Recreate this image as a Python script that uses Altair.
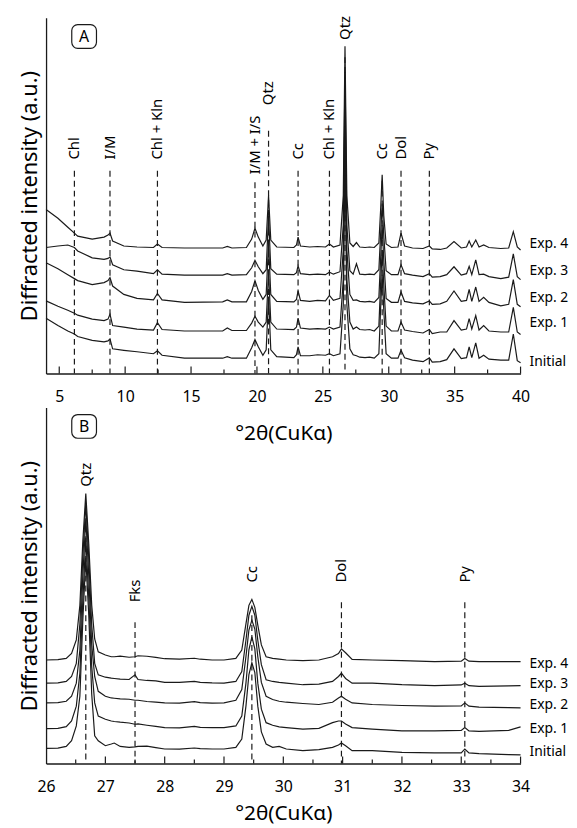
import altair as alt
import pandas as pd

FONT = "Noto Sans"
SAMPLES = ["Exp. 4", "Exp. 3", "Exp. 2", "Exp. 1", "Initial"]

# ---------------- Panel A (4-40 deg) ----------------
A_x = [4.0, 4.9, 5.65, 6.15, 6.4, 7.5, 8.4, 8.7, 8.85, 9.05,
       9.9, 10.9, 12.15, 12.45, 12.8, 14.5, 17.4, 17.75, 18.1, 19.2,
       19.6, 19.85, 20.1, 20.45, 20.7, 20.88, 21.05, 21.5, 22.8, 23.0,
       23.12, 23.3, 24.0, 24.6, 25.2, 25.5, 25.8, 26.3, 26.55, 26.68,
       26.82, 27.05, 27.3, 27.55, 27.8, 28.2, 28.55, 28.9, 29.25, 29.38,
       29.5, 29.62, 29.8, 30.2, 30.7, 30.93, 31.2, 31.8, 32.6, 33.08,
       33.3, 33.9, 34.4, 34.95, 35.5, 35.9, 36.1, 36.3, 36.6, 36.85,
       37.2, 37.6, 38.5, 39.1, 39.45, 39.75, 40.0]
A_exp4 = [166, 157, 148, 142, 139, 136, 138, 140, 142, 134,
          129, 128, 127.5, 131, 127.5, 127, 127, 128.5, 127, 127.5,
          136, 147, 138, 129, 135, 180, 135, 128, 127.5, 130,
          138, 129, 128, 128.5, 128, 131, 128, 130, 180, 331,
          180, 132, 128.5, 132.5, 128, 127.5, 128, 127.5, 132, 165,
          201, 160, 131, 127.5, 128, 142, 129, 127, 126.5, 129,
          126, 125.5, 127, 133.5, 127, 128, 134, 128, 135, 128,
          130, 127.5, 126.5, 127, 143.5, 128, 125]
A_exp3 = [127.5, 129, 130, 127.5, 124, 117, 115.5, 116.5, 118, 110,
          105, 103.5, 101, 105, 100.5, 99.5, 99.5, 101, 99.5, 100,
          107, 114.5, 108, 101, 105, 160, 106, 100.5, 100, 102,
          109, 101, 100, 100.5, 100, 102.5, 100.5, 103, 150, 305,
          150, 104, 100.5, 111, 100.5, 100, 100.5, 100, 105, 140,
          172, 140, 104, 100, 100, 110, 101, 99.5, 98, 101,
          97.5, 98, 100, 108, 99.5, 101, 108.5, 100, 115, 100,
          100.5, 98, 96, 97.5, 121, 98, 95]
A_exp2 = [112, 106, 100, 96, 94, 90, 92, 94, 97, 88.5,
          80, 76, 74.5, 81, 74.5, 72, 72.5, 74.5, 72.5, 72.5,
          83, 94, 84, 75, 80, 132, 80, 73, 72.5, 75,
          83.5, 74, 73, 74, 73.5, 79, 74, 76, 125, 280,
          125, 80, 74, 74.5, 73, 72.5, 73, 72, 77, 115,
          150, 115, 76, 72, 72, 82.5, 73, 71.5, 70.5, 73.5,
          70, 70.5, 73, 83.5, 73, 74, 85, 73, 87.5, 73,
          77, 72, 68.5, 70, 95, 70, 67.5]
A_exp1 = [73.5, 68, 64, 61, 59, 55, 53.5, 55, 60, 48.5,
          47, 45, 44, 51.5, 44.5, 43, 43, 46, 43.5, 43.5,
          51, 58, 52, 47, 52, 103, 52, 45, 44.5, 47,
          56, 46, 45, 45.5, 45, 47, 45, 47, 95, 250,
          95, 52, 45, 47, 44.5, 44, 44.5, 43, 48, 90,
          125, 90, 48, 43, 43, 52, 44, 42.5, 41, 44.5,
          40.5, 42, 42, 53.5, 44, 45, 55.5, 45, 58.5, 44,
          48.5, 43, 42, 42, 67, 42, 39.5]
A_init = [56, 48.5, 43, 40, 37.5, 33.5, 32, 33, 35, 25,
          23.5, 22, 20, 23, 18.5, 15.5, 15.5, 17, 15.5, 15.5,
          26, 34.5, 27, 18.5, 24, 78, 24, 17, 16, 19,
          27, 18, 18, 19, 18.5, 20, 18, 20, 70, 225,
          70, 25, 19, 18, 16.5, 16, 16.5, 15.5, 20, 65,
          100, 65, 20, 15.5, 15.5, 23.5, 16, 13.5, 12, 15.8,
          11.5, 12, 14, 25, 15, 16, 27, 16, 31, 15.5,
          18.5, 14.5, 13.5, 13.5, 40, 13, 10.8]
A_sample_label_y = [130.5, 103.5, 76.8, 50.8, 11.8]
A_peaks = ["Chl", "I/M", "Chl + Kln", "I/M + I/S", "Qtz", "Cc", "Chl + Kln",
           "Qtz", "Cc", "Dol", "Py"]
A_peak_pos = [6.15, 8.85, 12.45, 19.85, 20.88, 23.12, 25.5, 26.68, 29.5, 30.93, 33.08]
A_peak_label_y = [216.5, 216.5, 216.5, 201.5, 271.5, 216.5, 216.5, 337.5, 216.5, 216.5, 216.5]
A_peak_dash_top = [205, 205, 205, 193.5, 245.5, 205, 205, 320, 195, 205, 205]
A_tick_labels = [5, 10, 15, 20, 25, 30, 35, 40]
A_major = [5, 10, 15, 20, 25, 30, 35, 40]
A_minor = [7.5, 12.5, 17.5, 22.5, 27.5, 32.5, 37.5]

# ---------------- Panel B (26-34 deg) ----------------
B_x = [26.0, 26.2, 26.34, 26.43, 26.51, 26.57, 26.62, 26.67, 26.72, 26.77,
       26.82, 26.88, 27.0, 27.1, 27.15, 27.25, 27.4, 27.5, 27.55, 27.7,
       27.85, 28.0, 28.25, 28.5, 28.6, 28.8, 29.0, 29.2, 29.3, 29.37,
       29.42, 29.47, 29.52, 29.57, 29.63, 29.71, 29.82, 29.93, 30.05, 30.33,
       30.6, 30.83, 30.93, 30.98, 31.05, 31.16, 31.5, 32.0, 32.55, 33.0,
       33.06, 33.13, 33.3, 33.8, 34.0]
B_exp4 = [104.7, 105, 106.3, 111.3, 125, 160, 225, 273, 222, 160,
          126, 113, 109.7, 108, 108, 108.7, 107.5, 108, 109, 108.5,
          107.3, 106, 105.5, 106.5, 105.5, 104.7, 104.7, 106.3, 114.7, 141.3,
          160, 166, 158, 140, 120, 108, 106.3, 105.5, 104.7, 104,
          104.7, 108, 111.3, 116, 112, 105.3, 104.7, 104, 103, 103.5,
          106.3, 103.5, 103, 103, 103]
B_exp3 = [81.3, 81.5, 83, 88, 101.3, 141, 210, 263, 208, 140,
          101.3, 89.7, 87.3, 86.3, 86, 85.3, 85, 89.7, 85, 84,
          83.5, 82, 82, 83, 82, 81.5, 81.3, 83, 93, 124.7,
          150, 159, 150, 124.7, 100, 84.7, 83, 82, 81.3, 79.7,
          80.3, 83, 88, 91.3, 86, 81.3, 81.3, 79.7, 78.7, 79.5,
          81.3, 78.7, 78, 78.5, 78.7]
B_exp2 = [61.3, 61.5, 63, 68, 81.3, 114.7, 190, 248, 190, 120,
          88, 73, 68, 66.3, 66, 65.3, 65, 64, 64, 62.7,
          62, 61.3, 61, 62.5, 61.5, 61, 61.3, 64, 74.7, 108,
          135, 145, 136, 108, 82, 68, 64.7, 63, 62, 60.7,
          59.7, 62, 66.3, 68, 65, 61.3, 59.7, 58.7, 58, 58.3,
          61.3, 58, 57, 56.5, 56.3]
B_exp1 = [35.3, 35.5, 37.3, 43, 58, 91.3, 165, 228, 168, 98,
          61.3, 48, 44.7, 43, 42.5, 41.8, 41, 39.7, 40, 38.7,
          37.5, 36.3, 36, 37.5, 36.5, 36.3, 36.3, 38, 48, 81.3,
          115, 128, 116, 81.3, 55, 41.3, 38.7, 37, 36.3, 34.7,
          35.5, 41.3, 43, 43, 40, 36.3, 34.7, 33, 33, 33.5,
          36.3, 33, 32.5, 33.5, 37]
B_init = [15.3, 15.5, 17.3, 23, 38, 68, 145, 208, 150, 70,
          28, 23, 18, 19.7, 20.7, 17.3, 16.3, 16.8, 17.3, 17.5,
          16, 14.7, 14.5, 15.7, 15, 14.7, 14.7, 16.3, 24.7, 58,
          90, 102, 92, 58, 32, 19.7, 16.3, 17.3, 14.7, 13,
          14, 16.3, 18.7, 20.7, 18, 13, 13, 11.3, 10.7, 10.8,
          14.7, 10.7, 10, 9, 8.7]
B_sample_label_y = [100.5, 80.5, 59.5, 35, 11.3]
B_peaks = ["Qtz", "Fks", "Cc", "Dol", "Py"]
B_peak_pos = [26.67, 27.5, 29.47, 30.98, 33.06]
B_peak_label_y = [280, 163, 183, 183, 183]
B_peak_dash_top = [240, 143, 150, 163, 163]
B_tick_labels = [26, 27, 28, 29, 30, 31, 32, 33, 34]
B_major = [27, 28, 29, 30, 31, 32, 33, 34]
B_minor = [26.5, 27.5, 28.5, 29.5, 30.5, 31.5, 32.5, 33.5]

W, H = 480, 360
INK = "#1a1a1a"


def panel(xv, curves, sample_label_y, peaks, peak_pos, peak_label_y, dash_top,
          tick_labels, major, minor, domain, letter, title_pad):
    rows = []
    for name, ys in zip(SAMPLES, curves):
        for a, b in zip(xv, ys):
            rows.append({"x": a, "y": b, "sample": name})
    df = pd.DataFrame(rows)
    xs = alt.Scale(domain=domain, nice=False, zero=False)
    ys = alt.Scale(domain=[0, 360], nice=False, zero=False)
    xax = alt.Axis(values=tick_labels, ticks=False, grid=False, format="d",
                   labelFont=FONT, labelFontSize=16, labelColor="black", labelPadding=15,
                   labelFlush=False, labelOverlap=False,
                   title="°2θ(CuKα)", titleFont=FONT, titleFontSize=21,
                   titleFontWeight="normal", titleColor="black", titlePadding=title_pad,
                   domainColor=INK, domainWidth=1.3)
    yax = alt.Axis(labels=False, ticks=False, grid=False,
                   title="Diffracted intensity (a.u.)", titleFont=FONT, titleFontSize=22,
                   titleFontWeight="normal", titleColor="black", titlePadding=5,
                   domainColor=INK, domainWidth=1.3)

    def X(f):
        return alt.X(f, scale=xs, axis=xax)

    def Y(f):
        return alt.Y(f, scale=ys, axis=yax)

    lines = alt.Chart(df).mark_line(color=INK, strokeWidth=1.2).encode(
        x=X("x:Q"), y=Y("y:Q"), detail="sample:N")

    pk = pd.DataFrame({"name": peaks, "pos": peak_pos, "ly": peak_label_y, "dt": dash_top})
    dashes = alt.Chart(pk).mark_rule(color=INK, strokeWidth=1.2, strokeDash=[6, 4]).encode(
        x=X("pos:Q"), y=Y("dt:Q"), y2=alt.value(H))
    ptext = alt.Chart(pk).mark_text(angle=270, align="left", baseline="middle",
                                    font=FONT, fontSize=15, color="black").encode(
        x=X("pos:Q"), y=Y("ly:Q"), text="name:N")

    tmaj = alt.Chart(pd.DataFrame({"t": major})).mark_rule(color=INK, strokeWidth=1.2).encode(
        x=X("t:Q"), y=alt.value(H), y2=alt.value(H - 7))
    tmin = alt.Chart(pd.DataFrame({"t": minor})).mark_rule(color=INK, strokeWidth=1.2).encode(
        x=X("t:Q"), y=alt.value(H), y2=alt.value(H - 4))

    lab = pd.DataFrame({"name": SAMPLES, "ly": sample_label_y, "lx": [domain[1]] * len(SAMPLES)})
    ltext = alt.Chart(lab).mark_text(align="left", baseline="middle", dx=9,
                                     font=FONT, fontSize=14, color="black").encode(
        x=X("lx:Q"), y=Y("ly:Q"), text="name:N")

    let = pd.DataFrame({"letter": [letter]})
    box = alt.Chart(let).mark_rect(fill="white", stroke=INK, strokeWidth=1.2,
                                   cornerRadius=6).encode(
        x=alt.value(26), x2=alt.value(51), y=alt.value(7), y2=alt.value(31))
    btext = alt.Chart(let).mark_text(font=FONT, fontSize=16, color="black",
                                     baseline="middle", align="center").encode(
        x=alt.value(38.5), y=alt.value(19.5), text="letter:N")

    return alt.layer(lines, dashes, tmaj, tmin, ptext, ltext, box, btext).properties(
        width=W, height=H)


pA = panel(A_x, [A_exp4, A_exp3, A_exp2, A_exp1, A_init], A_sample_label_y,
           A_peaks, A_peak_pos, A_peak_label_y, A_peak_dash_top,
           A_tick_labels, A_major, A_minor, [4, 40], "A", 19)
pB = panel(B_x, [B_exp4, B_exp3, B_exp2, B_exp1, B_init], B_sample_label_y,
           B_peaks, B_peak_pos, B_peak_label_y, B_peak_dash_top,
           B_tick_labels, B_major, B_minor, [26, 34], "B", 9)

chart = alt.vconcat(pA, pB, spacing=34.5, bounds="flush").configure_view(
    stroke=None).properties(padding={"left": 10.5, "top": 3, "right": 0, "bottom": 0})

chart.save("out.html", embed_options={"renderer": "svg", "actions": False})
